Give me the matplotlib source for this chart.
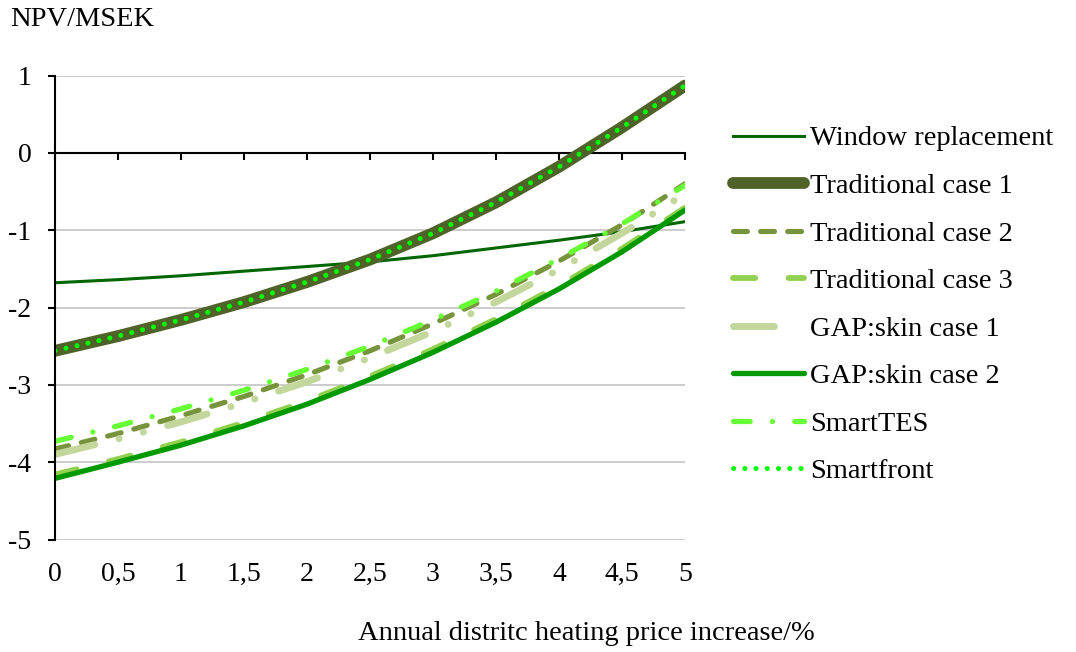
import matplotlib
matplotlib.use("Agg")
import matplotlib.pyplot as plt
from matplotlib.lines import Line2D

plt.rcParams['font.family'] = ['Liberation Serif', 'DejaVu Serif']
plt.rcParams['lines.scale_dashes'] = False

# Data
price_increase = [0, 0.5, 1, 1.5, 2, 2.5, 3, 3.5, 4, 4.5, 5]
tick_labels = ["0", "0,5", "1", "1,5", "2", "2,5", "3", "3,5", "4", "4,5", "5"]

window = [-1.68, -1.64, -1.59, -1.53, -1.47, -1.41, -1.33, -1.23, -1.13, -1.02, -0.89]
trad1 = [-2.56, -2.37, -2.16, -1.93, -1.67, -1.38, -1.04, -0.64, -0.18, 0.33, 0.87]
trad2 = [-3.83, -3.63, -3.40, -3.15, -2.87, -2.56, -2.21, -1.83, -1.40, -0.93, -0.40]
trad3 = [-4.16, -3.96, -3.74, -3.49, -3.21, -2.89, -2.54, -2.15, -1.72, -1.24, -0.71]
gap1 = [-3.90, -3.70, -3.48, -3.23, -2.96, -2.65, -2.31, -1.93, -1.51, -1.04, -0.53]
gap2 = [-4.21, -4.00, -3.78, -3.53, -3.25, -2.93, -2.58, -2.19, -1.76, -1.28, -0.74]
smarttes = [-3.73, -3.53, -3.31, -3.07, -2.80, -2.50, -2.16, -1.79, -1.37, -0.92, -0.42]
smartfront = [-2.56, -2.37, -2.16, -1.93, -1.67, -1.38, -1.04, -0.64, -0.18, 0.33, 0.87]

fig = plt.figure(figsize=(10.76, 6.52), dpi=100)
ax = fig.add_axes([55 / 1076, 1 - 539.5 / 652, 630 / 1076, 464 / 652])

ax.plot(price_increase, window, color='#006600', lw=2.2, label='Window replacement')
ax.plot(price_increase, trad1, color='#4F6228', lw=8.5, solid_capstyle='round',
        label='Traditional case 1')
ax.plot(price_increase, trad2, color='#77933C', lw=3.7, dashes=(10, 9.5),
        dash_capstyle='round', label='Traditional case 2')
ax.plot(price_increase, trad3, color='#92D050', lw=4.2, dashes=(16, 24),
        dash_capstyle='round', label='Traditional case 3')
ax.plot(price_increase, gap1, color='#C3D69B', lw=5,
        dashes=(29.5, 18, 0.1, 18, 0.1, 18), dash_capstyle='round')
ax.plot(price_increase, gap2, color='#009900', lw=3.8, solid_capstyle='round',
        label='GAP:skin case 2')
ax.plot(price_increase, smarttes, color='#66FF33', lw=3.8, dashes=(12, 16, 0.1, 16),
        dash_capstyle='round', label='SmartTES')
ax.plot(price_increase, smartfront, color='#00FF00', lw=3.6, dashes=(0.1, 8),
        dash_capstyle='round', label='Smartfront')

ax.set_xlim(0, 5)
ax.set_ylim(-5, 1)
ax.set_yticks(range(-5, 2))
ax.set_yticklabels([str(v) for v in range(-5, 2)])
ax.yaxis.grid(True, color='#BFBFBF', lw=1.1)
ax.set_axisbelow(True)

for s in ['top', 'right']:
    ax.spines[s].set_visible(False)
ax.spines['left'].set_linewidth(1.5)
ax.spines['bottom'].set_position(('data', 0))
ax.spines['bottom'].set_linewidth(1.5)
ax.spines['bottom'].set_zorder(1.5)

ax.set_xticks(price_increase)
ax.tick_params(axis='x', direction='out', length=5, width=1.5, labelbottom=False)
ax.tick_params(axis='y', direction='out', length=5, width=1.5, labelsize=20, pad=12)

sec = ax.secondary_xaxis('bottom')
sec.set_xticks(price_increase, tick_labels)
sec.tick_params(length=0, pad=16, labelsize=20)
sec.spines['bottom'].set_visible(False)

# legend: GAP:skin case 1 shows only its first dash
handles, labels = ax.get_legend_handles_labels()
gap1_proxy = Line2D([], [], color='#C3D69B', lw=5, dashes=(29.5, 60), dash_capstyle='round')
handles.insert(4, gap1_proxy)
labels.insert(4, 'GAP:skin case 1')
fig.legend(handles, labels, loc='center left', bbox_to_anchor=(733 / 1076, 1 - 305 / 652),
           frameon=False, fontsize=20.5, handlelength=2.5, handletextpad=0.2,
           labelspacing=0.76, borderpad=0, borderaxespad=0)

fig.text(10 / 1076, 1 - 20 / 652, 'NPV/MSEK', fontsize=20.5, va='center', ha='left')
fig.text(586 / 1076, 1 - 634 / 652, 'Annual distritc heating price increase/%',
         fontsize=20.5, va='center', ha='center')

fig.savefig('out.png', dpi=100)
